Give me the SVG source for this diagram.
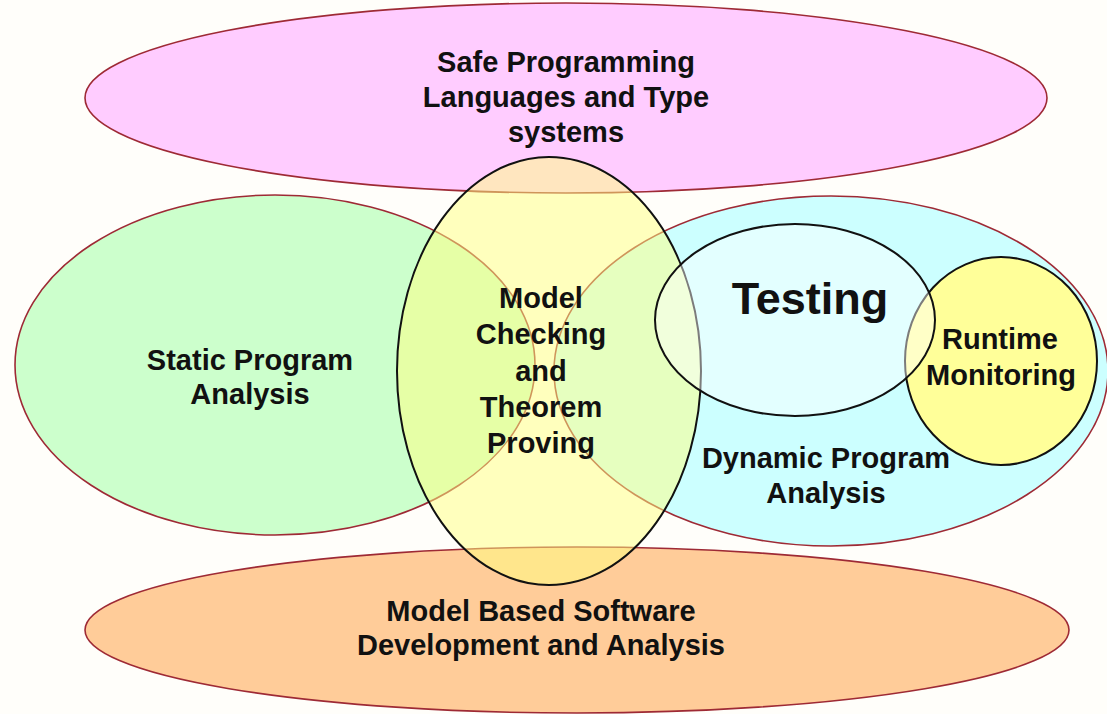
<svg xmlns="http://www.w3.org/2000/svg" width="1107" height="714" viewBox="0 0 1107 714">
  <style>
    .area { stroke: #9e2a35; stroke-width: 1.6; }
    .core { stroke: #111; stroke-width: 2; }
    .lbl { font-family: "Comic Sans MS", "Liberation Sans", Arial, sans-serif; font-weight: bold; fill: #111; text-anchor: middle; }
    .m { font-size: 29px; }
    .big { font-size: 45px; }
  </style>

  <!-- page -->
  <rect x="0" y="0" width="1107" height="714" fill="#fffefa"/>

  <g id="safe-languages">
    <ellipse class="area" cx="566" cy="98" rx="481" ry="95" fill="#ffccff"/>
    <text class="lbl m" x="566" y="72">Safe Programming</text>
    <text class="lbl m" x="566" y="107">Languages and Type</text>
    <text class="lbl m" x="566" y="142">systems</text>
  </g>

  <g id="static-analysis">
    <ellipse class="area" cx="275" cy="365" rx="260" ry="170" fill="#ccffcc"/>
    <text class="lbl m" x="250" y="370">Static Program</text>
    <text class="lbl m" x="250" y="404">Analysis</text>
  </g>

  <g id="dynamic-analysis">
    <ellipse class="area" cx="831" cy="371" rx="277" ry="175" fill="#ccffff"/>
    <text class="lbl m" x="826" y="468">Dynamic Program</text>
    <text class="lbl m" x="826" y="503">Analysis</text>
  </g>

  <g id="model-based">
    <ellipse class="area" cx="577" cy="630" rx="492" ry="83" fill="#ffcc99"/>
    <text class="lbl m" x="541" y="621">Model Based Software</text>
    <text class="lbl m" x="541" y="655">Development and Analysis</text>
  </g>

  <!-- translucent overlay so the regions underneath stay visible -->
  <g id="model-checking">
    <ellipse class="core" cx="549" cy="371" rx="152" ry="214" fill="#ffff80" fill-opacity="0.5"/>
    <text class="lbl m" x="541" y="308">Model</text>
    <text class="lbl m" x="541" y="344">Checking</text>
    <text class="lbl m" x="541" y="381">and</text>
    <text class="lbl m" x="541" y="417">Theorem</text>
    <text class="lbl m" x="541" y="453">Proving</text>
  </g>

  <g id="runtime-monitoring">
    <ellipse class="core" cx="1001" cy="361" rx="96" ry="104" fill="#ffff99"/>
    <text class="lbl m" x="1000" y="349">Runtime</text>
    <text class="lbl m" x="1001" y="385">Monitoring</text>
  </g>

  <g id="testing">
    <ellipse class="core" cx="795" cy="320" rx="140" ry="96" fill="#ffffff" fill-opacity="0.45"/>
    <text class="lbl big" x="810" y="314">Testing</text>
  </g>
</svg>
